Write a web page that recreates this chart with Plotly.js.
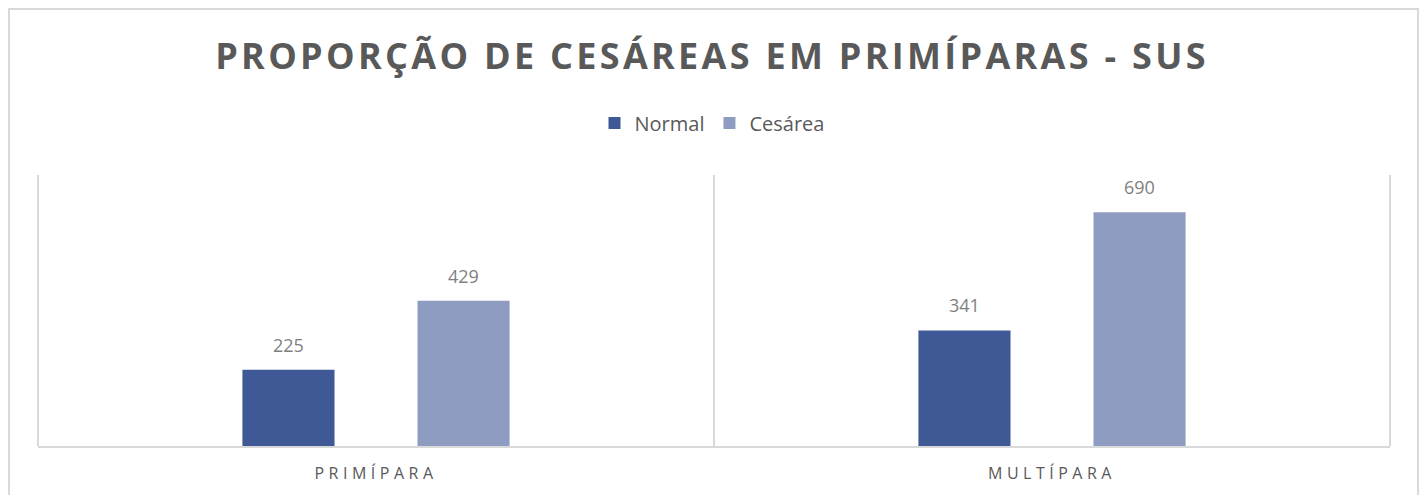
<!DOCTYPE html>
<html>
<head>
<meta charset="utf-8">
<script src="https://cdn.plot.ly/plotly-3.0.1.min.js"></script>
<style>
  html, body { margin: 0; padding: 0; background: #fff; }
  #wrap { position: relative; width: 1424px; height: 495px; overflow: hidden; }
  #chart { width: 1424px; height: 495px; }
  #frame { position: absolute; left: 8px; top: 8px; width: 1411px; height: 600px;
           border: 2px solid #d9d9d9; pointer-events: none; box-sizing: border-box; }
  .gtitle { letter-spacing: 3.3px; }
  .xtick text { letter-spacing: 4.5px; }
</style>
</head>
<body>
<div id="wrap">
  <div id="chart"></div>
  <div id="frame"></div>
</div>
<script>
const categories = ["PRIMÍPARA", "MULTÍPARA"];
const seriesNames = ["Normal", "Cesárea"];
const normalValues = [225, 341];
const cesareaValues = [429, 690];
const seriesColors = ["#3f5896", "#8f9cc1"];

const allValues = [normalValues, cesareaValues];

const traces = allValues.map((vals, i) => ({
  type: "bar",
  name: seriesNames[i],
  x: categories,
  y: vals,
  marker: { color: seriesColors[i], line: { width: 0 } },
  hoverinfo: "x+y+name"
}));

// data labels above bars
const bargap = 0.482;
const slotShift = (1 - bargap) / 4; // half a slot in category units
const annotations = [];
allValues.forEach((vals, i) => {
  vals.forEach((v, j) => {
    annotations.push({
      x: j + (i === 0 ? -slotShift : slotShift),
      y: v,
      xref: "x", yref: "y",
      text: String(v),
      showarrow: false,
      yanchor: "bottom",
      yshift: 11,
      font: { family: "Open Sans", size: 18, color: "#7f7f7f" }
    });
  });
});

// plot-area side borders (category boundary lines at the edges)
const edgeShapes = [0, 1].map(px => ({
  type: "line", xref: "paper", yref: "paper",
  x0: px, x1: px, y0: 0, y1: 1,
  line: { color: "#d9d9d9", width: 2 }, layer: "below"
}));

const layout = {
  width: 1424,
  height: 495,
  paper_bgcolor: "#ffffff",
  plot_bgcolor: "#ffffff",
  margin: { l: 38, r: 34, t: 175, b: 49 },
  title: {
    text: "<b>PROPORÇÃO DE CESÁREAS EM PRIMÍPARAS - SUS</b>",
    font: { family: "Open Sans", size: 36, color: "#595959" },
    x: 0.5, xanchor: "center",
    y: 1 - 56 / 495, yanchor: "middle", yref: "container"
  },
  showlegend: true,
  legend: {
    orientation: "h",
    x: 0.5, xanchor: "center", xref: "container",
    y: 1 - 123 / 495, yanchor: "middle", yref: "container",
    font: { family: "Open Sans", size: 20, color: "#595959" },
    itemwidth: 30,
    itemsizing: "constant",
    traceorder: "normal"
  },
  barmode: "group",
  bargap: bargap,
  bargroupgap: 0.474,
  xaxis: {
    type: "category",
    tickson: "boundaries",
    showgrid: true,
    gridcolor: "#d9d9d9",
    gridwidth: 2,
    showline: true,
    linecolor: "#d9d9d9",
    linewidth: 2,
    ticks: "",
    tickfont: { family: "Open Sans", size: 16, color: "#595959" },
    ticklabelstandoff: 12,
    range: [-0.5, 1.5],
    zeroline: false,
    fixedrange: true
  },
  yaxis: {
    range: [0, 800],
    showgrid: false,
    showticklabels: false,
    zeroline: false,
    showline: false,
    ticks: "",
    fixedrange: true
  },
  shapes: edgeShapes,
  annotations: annotations
};

Plotly.newPlot("chart", traces, layout, { displayModeBar: false, staticPlot: true });
</script>
</body>
</html>
